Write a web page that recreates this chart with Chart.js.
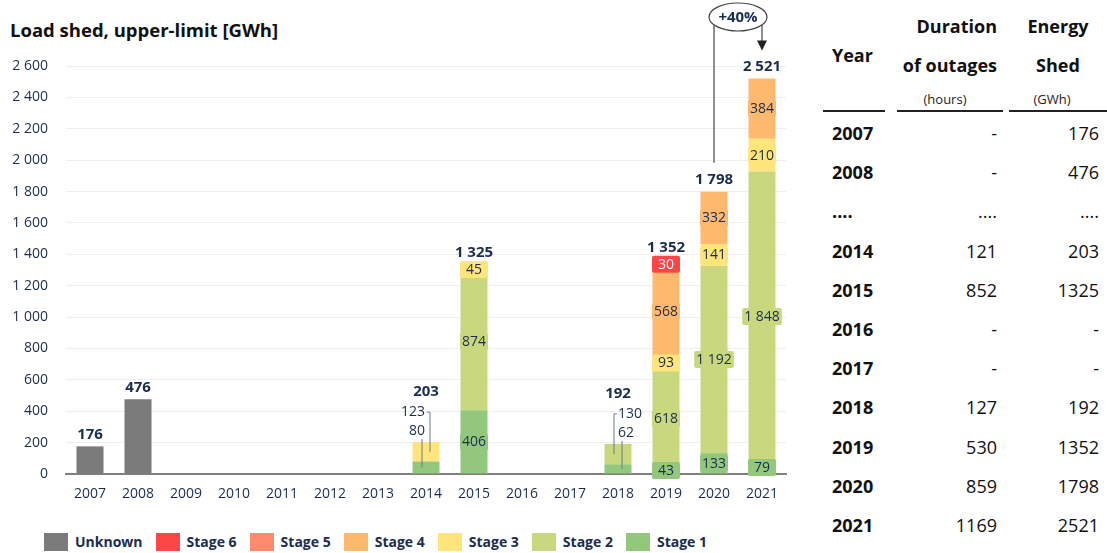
<!DOCTYPE html>
<html>
<head>
<meta charset="utf-8">
<script src="https://cdn.jsdelivr.net/npm/chart.js@4.4.0/dist/chart.umd.min.js"></script>
<style>
  html, body { margin: 0; padding: 0; background: #fff; }
  body { width: 1107px; height: 553px; position: relative; overflow: hidden; font-family: "Open Sans", sans-serif; }
  #title { position: absolute; left: 10px; top: 17px; font-size: 18.5px; font-weight: 700; color: #111; line-height: 26px; white-space: nowrap; }
  #chartBox { position: absolute; left: 0; top: 0; width: 800px; height: 515px; }
  #legend { position: absolute; left: 44px; top: 533px; display: flex; align-items: center; }
  .lg-item { display: flex; align-items: center; margin-right: 13px; }
  .lg-box { width: 24px; height: 18px; margin-right: 7px; }
  .lg-text { font-size: 14px; font-weight: 700; color: #1b2d4f; line-height: 18px; white-space: nowrap; }
  .cell { position: absolute; white-space: nowrap; color: #111; font-size: 18px; line-height: 24px; }
  .bold { font-weight: 700; }
  .small { font-size: 13px; line-height: 18px; color: #222; }
  .rule { position: absolute; height: 2px; background: #222; top: 110px; }
</style>
</head>
<body>
<div id="title">Load shed, upper-limit [GWh]</div>
<div id="chartBox"><canvas id="chart"></canvas></div>
<div id="legend"></div>
<div id="table"></div>
<script>
const years = ['2007', '2008', '2009', '2010', '2011', '2012', '2013', '2014', '2015', '2016', '2017', '2018', '2019', '2020', '2021'];
const unknownGWh = [176, 476, null, null, null, null, null, null, null, null, null, null, null, null, null];
const stage1GWh = [null, null, null, null, null, null, null, 80, 406, null, null, 62, 43, 133, 79];
const stage2GWh = [null, null, null, null, null, null, null, null, 874, null, null, 130, 618, 1192, 1848];
const stage3GWh = [null, null, null, null, null, null, null, 123, 45, null, null, null, 93, 141, 210];
const stage4GWh = [null, null, null, null, null, null, null, null, null, null, null, null, 568, 332, 384];
const stage5GWh = [null, null, null, null, null, null, null, null, null, null, null, null, null, null, null];
const stage6GWh = [null, null, null, null, null, null, null, null, null, null, null, null, 30, null, null];
const yTicks = [0, 200, 400, 600, 800, 1000, 1200, 1400, 1600, 1800, 2000, 2200, 2400, 2600];

// table on the right
const tableYears = ['2007', '2008', '....', '2014', '2015', '2016', '2017', '2018', '2019', '2020', '2021'];
const tableHours = ['-', '-', '....', '121', '852', '-', '-', '127', '530', '859', '1169'];
const tableEnergy = ['176', '476', '....', '203', '1325', '-', '-', '192', '1352', '1798', '2521'];

// years whose small segments get callout labels instead of inside labels
const calloutSide = { '2014': -1, '2018': 1 };

const NAVY = '#1b2d4f';
const fmt = v => String(v).replace(/\B(?=(\d{3})+(?!\d))/g, ' ');

function boxPath(ctx, x, y, w, h, r) {
    ctx.beginPath();
    ctx.moveTo(x + r, y);
    ctx.lineTo(x + w - r, y);
    ctx.quadraticCurveTo(x + w, y, x + w, y + r);
    ctx.lineTo(x + w, y + h - r);
    ctx.quadraticCurveTo(x + w, y + h, x + w - r, y + h);
    ctx.lineTo(x + r, y + h);
    ctx.quadraticCurveTo(x, y + h, x, y + h - r);
    ctx.lineTo(x, y + r);
    ctx.quadraticCurveTo(x, y, x + r, y);
    ctx.closePath();
}

const barLabels = {
    id: 'barLabels',
    afterDatasetsDraw(chart) {
        const { ctx, scales: { x, y } } = chart;
        const datasets = chart.data.datasets;
        const totals = years.map((_, i) => datasets.reduce((s, ds) => s + (ds.data[i] || 0), 0));
        const labelTop = years.map((_, i) => y.getPixelForValue(totals[i]) - 12);
        ctx.save();
        ctx.textAlign = 'center';
        ctx.textBaseline = 'middle';

        // labels inside the segments
        ctx.font = '14px "Open Sans"';
        datasets.forEach((ds, di) => {
            if (ds.label === 'Unknown') return;
            const meta = chart.getDatasetMeta(di);
            meta.data.forEach((bar, i) => {
                const v = ds.data[i];
                if (!v || calloutSide[years[i]]) return;
                const cy = (bar.y + bar.base) / 2;
                const text = fmt(v);
                const w = Math.max(ctx.measureText(text).width + 4, bar.width + 1);
                const h = 17;
                ctx.fillStyle = ds.backgroundColor;
                boxPath(ctx, bar.x - w / 2, cy - h / 2, w, h, 2);
                ctx.fill();
                ctx.fillStyle = ds.label === 'Stage 6' ? '#fff' : NAVY;
                ctx.fillText(text, bar.x, cy + 0.5);
                labelTop[i] = Math.min(labelTop[i], cy - h / 2 - 8);
            });
        });

        // callout labels for the small bars
        ctx.strokeStyle = '#6b7b8f';
        ctx.lineWidth = 1;
        years.forEach((yr, i) => {
            const side = calloutSide[yr];
            if (!side) return;
            const cx = x.getPixelForValue(i);
            const top = y.getPixelForValue(totals[i]);
            const segs = [];
            datasets.forEach((ds, di) => {
                const v = ds.data[i];
                if (!v) return;
                const bar = chart.getDatasetMeta(di).data[i];
                segs.push({ v, mid: (bar.y + bar.base) / 2 });
            });
            segs.forEach((s, j) => {
                const ly = top - 11 - 19 * j;
                ctx.textAlign = side < 0 ? 'right' : 'left';
                ctx.fillStyle = NAVY;
                ctx.fillText(fmt(s.v), side < 0 ? cx - 1 : cx, ly);
                const lx = cx + (j === 0 ? 4 : -4) * side;
                const y0 = j === segs.length - 1 ? ly : ly + 8;
                ctx.beginPath();
                if (j === segs.length - 1) {
                    ctx.moveTo(lx - 3 * side * -1, y0);
                    ctx.lineTo(lx, y0);
                } else {
                    ctx.moveTo(lx, y0);
                }
                ctx.lineTo(lx, s.mid);
                ctx.stroke();
            });
            labelTop[i] = top - 50;
        });

        // totals above the bars
        ctx.textAlign = 'center';
        ctx.font = 'bold 15px "Open Sans"';
        ctx.fillStyle = NAVY;
        years.forEach((_, i) => {
            if (!totals[i]) return;
            ctx.fillText(fmt(totals[i]), x.getPixelForValue(i), labelTop[i]);
        });

        // growth note 2020 -> 2021
        const i0 = years.indexOf('2020'), i1 = years.indexOf('2021');
        const x0 = x.getPixelForValue(i0), x1 = x.getPixelForValue(i1);
        const ex = (x0 + x1) / 2, ey = chart.chartArea.top - 49, rx = 29, ry = 14;
        const edgeY = dx => ey + ry * Math.sqrt(1 - (dx / rx) * (dx / rx));
        ctx.strokeStyle = '#444';
        ctx.lineWidth = 1.2;
        ctx.beginPath();
        ctx.moveTo(x0, labelTop[i0] - 17);
        ctx.lineTo(x0, edgeY(x0 - ex));
        ctx.stroke();
        const tipY = labelTop[i1] - 16;
        ctx.beginPath();
        ctx.moveTo(x1, edgeY(x1 - ex));
        ctx.lineTo(x1, tipY - 9);
        ctx.stroke();
        ctx.fillStyle = '#222';
        ctx.beginPath();
        ctx.moveTo(x1 - 5, tipY - 10);
        ctx.lineTo(x1 + 5, tipY - 10);
        ctx.lineTo(x1, tipY);
        ctx.closePath();
        ctx.fill();
        ctx.beginPath();
        ctx.ellipse(ex, ey, rx, ry, 0, 0, Math.PI * 2);
        ctx.fillStyle = '#fff';
        ctx.fill();
        ctx.stroke();
        const pct = Math.round((totals[i1] / totals[i0] - 1) * 100);
        ctx.fillStyle = NAVY;
        ctx.font = 'bold 15px "Open Sans"';
        ctx.fillText('+' + pct + '%', ex, ey + 0.5);
        ctx.restore();
    }
};

const series = [
    { label: 'Stage 1', data: stage1GWh, backgroundColor: '#93c87c' },
    { label: 'Stage 2', data: stage2GWh, backgroundColor: '#c9d87e' },
    { label: 'Stage 3', data: stage3GWh, backgroundColor: '#ffe57c' },
    { label: 'Stage 4', data: stage4GWh, backgroundColor: '#ffb96e' },
    { label: 'Stage 5', data: stage5GWh, backgroundColor: '#ff8b6c' },
    { label: 'Stage 6', data: stage6GWh, backgroundColor: '#ff4646' },
    { label: 'Unknown', data: unknownGWh, backgroundColor: '#7b7b7b' },
];

new Chart(document.getElementById('chart'), {
    type: 'bar',
    data: {
        labels: years,
        datasets: series.map(s => ({ ...s, categoryPercentage: 1, barPercentage: 0.5625, borderWidth: 0 })),
    },
    options: {
        responsive: true,
        maintainAspectRatio: false,
        animation: false,
        layout: { padding: { top: 66, left: 8, right: 14, bottom: 5 } },
        plugins: { legend: { display: false }, tooltip: { enabled: false } },
        scales: {
            x: {
                stacked: true,
                grid: { display: false, drawTicks: false },
                border: { display: true, color: '#7f7f7f', width: 2 },
                ticks: { color: NAVY, font: { family: 'Open Sans', size: 14 }, padding: 12, maxRotation: 0 },
                afterFit: scale => { scale.height = 36; },
            },
            y: {
                stacked: true,
                min: 0,
                max: 2600,
                grid: { color: '#efefef', lineWidth: 1, drawTicks: false },
                border: { display: false },
                afterBuildTicks: scale => { scale.ticks = yTicks.map(v => ({ value: v })); },
                ticks: { color: NAVY, font: { family: 'Open Sans', size: 14 }, padding: 18, callback: v => fmt(v) },
                afterFit: scale => { scale.width = 58; },
            },
        },
    },
    plugins: [barLabels],
});

// legend, top-down order as in the stack
const legend = document.getElementById('legend');
series.slice().reverse().forEach(s => {
    const item = document.createElement('div');
    item.className = 'lg-item';
    item.innerHTML = `<div class="lg-box" style="background:${s.backgroundColor}"></div><div class="lg-text">${s.label}</div>`;
    legend.appendChild(item);
});

// table
const table = document.getElementById('table');
function cell(text, cls, style) {
    const d = document.createElement('div');
    d.className = 'cell ' + cls;
    d.textContent = text;
    d.setAttribute('style', style);
    table.appendChild(d);
}
cell('Year', 'bold', 'left:832px;top:43px;');
cell('Duration', 'bold', 'right:110px;top:14px;');
cell('of outages', 'bold', 'right:110px;top:53px;');
cell('(hours)', 'small', 'left:945px;top:90px;transform:translateX(-50%);');
cell('Energy', 'bold', 'left:1058px;top:14px;transform:translateX(-50%);');
cell('Shed', 'bold', 'left:1058px;top:53px;transform:translateX(-50%);');
cell('(GWh)', 'small', 'left:1052px;top:90px;transform:translateX(-50%);');
[[823, 885], [897, 1003], [1009, 1107]].forEach(([a, b]) => {
    const r = document.createElement('div');
    r.className = 'rule';
    r.style.left = a + 'px';
    r.style.width = (b - a) + 'px';
    table.appendChild(r);
});
tableYears.forEach((yr, i) => {
    const top = 133 + i * 39.2 - 12;
    cell(yr, 'bold', `left:832px;top:${top}px;`);
    cell(tableHours[i], '', `right:110px;top:${top}px;`);
    cell(tableEnergy[i], '', `right:8px;top:${top}px;`);
});
</script>
</body>
</html>
